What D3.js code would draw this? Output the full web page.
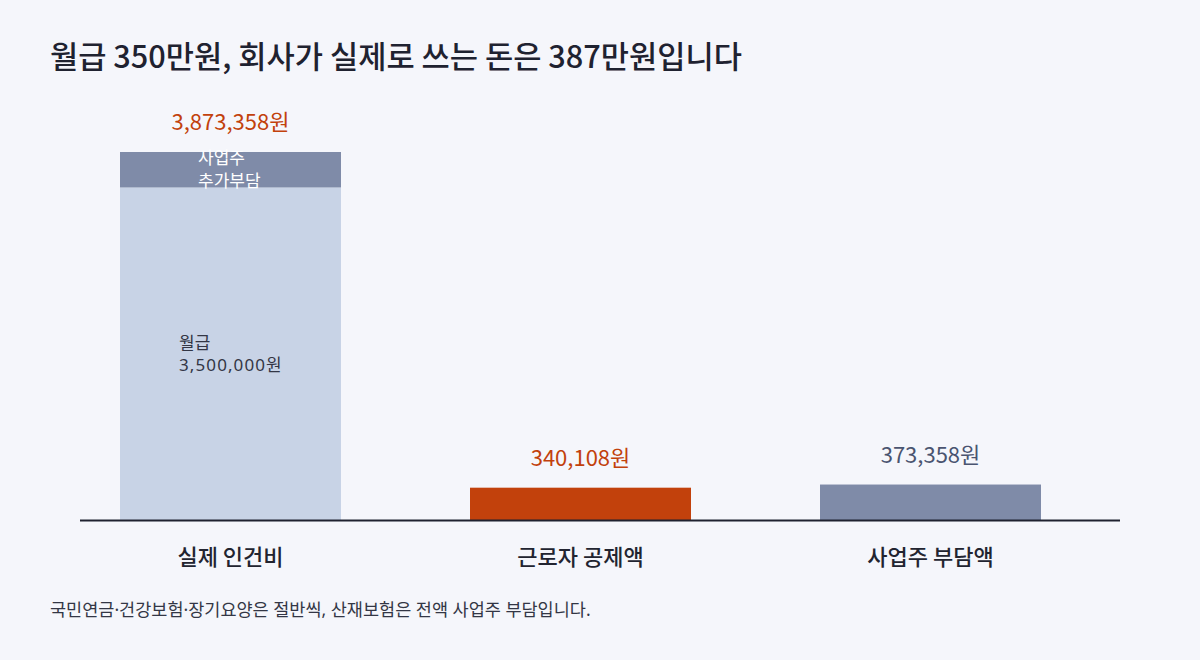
<!DOCTYPE html>
<html>
<head>
<meta charset="utf-8">
<script src="https://cdn.jsdelivr.net/npm/d3@7/dist/d3.min.js"></script>
<style>
  body { margin: 0; background: #f5f6fb; }
  svg { display: block; font-family: "Noto Sans CJK KR", "Noto Sans", sans-serif; }
</style>
</head>
<body>
<svg></svg>
<script>
var width = 1200;
var height = 660;

var categories = ["실제 인건비", "근로자 공제액", "사업주 부담액"];
var salary = [3500000, 0, 0];
var employerExtra = [373358, 0, 373358];
var employeeDeduct = [0, 340108, 0];
var totalLabels = ["3,873,358원", "340,108원", "373,358원"];

var colors = {
  salary: "#c8d3e6",
  employer: "#7f8ba8",
  employee: "#c2410c"
};

var latinFirst = '"Noto Sans", "Noto Sans CJK KR", sans-serif';

var svg = d3.select('svg')
  .attr('width', width)
  .attr('height', height);

svg.append('rect')
  .attr('width', width)
  .attr('height', height)
  .attr('fill', '#f5f6fb');

var xScale = d3.scaleBand()
  .domain(categories)
  .range([55.5, 1105.5])
  .paddingInner(0.3686)
  .paddingOuter(0.1843);

var yScale = d3.scaleLinear()
  .domain([0, 3873358])
  .range([520, 152]);

// stacked segments: salary, then employer / employee parts
var segments = [];
categories.forEach(function(c, i) {
  var base = 0;
  [["salary", salary[i]], ["employee", employeeDeduct[i]], ["employer", employerExtra[i]]].forEach(function(p) {
    if (p[1] > 0) {
      segments.push({ cat: c, key: p[0], y0: base, y1: base + p[1] });
      base += p[1];
    }
  });
});

svg.selectAll('rect.bar')
  .data(segments)
  .enter()
  .append('rect')
    .attr('class', 'bar')
    .attr('x', d => xScale(d.cat))
    .attr('y', d => yScale(d.y1))
    .attr('width', xScale.bandwidth())
    .attr('height', d => yScale(d.y0) - yScale(d.y1))
    .attr('fill', d => colors[d.key]);

// baseline axis
var xAxis = d3.axisBottom(xScale).tickSize(0).tickPadding(29);
var gx = svg.append('g')
  .attr('transform', 'translate(0,' + yScale(0) + ')')
  .call(xAxis);
gx.select('.domain').remove();
gx.append('line')
  .attr('x1', 80).attr('x2', 1120)
  .attr('y1', 0.5).attr('y2', 0.5)
  .attr('stroke', '#1f2230')
  .attr('stroke-width', 2);
gx.selectAll('.tick text')
  .attr('font-size', 22)
  .attr('font-weight', 500)
  .attr('fill', '#222430')
  .attr('font-family', '"Noto Sans CJK KR", sans-serif');

// total labels above bars
var totals = categories.map(function(c, i) { return salary[i] + employerExtra[i] + employeeDeduct[i]; });
svg.selectAll('text.total')
  .data(categories)
  .enter()
  .append('text')
    .attr('class', 'total')
    .attr('x', d => xScale(d) + xScale.bandwidth() / 2)
    .attr('y', (d, i) => yScale(totals[i]) - 22)
    .attr('text-anchor', 'middle')
    .attr('font-size', 22)
    .attr('fill', (d, i) => i < 2 ? '#c2410c' : '#4a5470')
    .text((d, i) => totalLabels[i]);

// inner labels
var first = categories[0];
var salLabel = svg.append('text')
  .attr('x', xScale(first) + 59)
  .attr('y', (yScale(0) + yScale(salary[0])) / 2 - 5)
  .attr('font-size', 17)
  .attr('font-family', latinFirst)
  .attr('fill', '#333645');
salLabel.append('tspan').attr('x', xScale(first) + 59).text('월급');
salLabel.append('tspan').attr('x', xScale(first) + 59).attr('dy', 22)
  .attr('letter-spacing', 1.1)
  .text('3,500,000원');

var empLabel = svg.append('text')
  .attr('x', xScale(first) + 78)
  .attr('y', (yScale(salary[0]) + yScale(totals[0])) / 2 - 6)
  .attr('font-size', 17)
  .attr('font-family', latinFirst)
  .attr('fill', '#ffffff');
empLabel.append('tspan').attr('x', xScale(first) + 78).text('사업주');
empLabel.append('tspan').attr('x', xScale(first) + 78).attr('dy', 23).text('추가부담');

// title
svg.append('text')
  .attr('x', 50)
  .attr('y', 68)
  .attr('font-size', 30.7)
  .attr('font-weight', 500)
  .attr('fill', '#1f2230')
  .text('월급 350만원, 회사가 실제로 쓰는 돈은 387만원입니다');

// footnote
svg.append('text')
  .attr('x', 50)
  .attr('y', 616)
  .attr('font-size', 17.5)
  .attr('font-family', latinFirst)
  .attr('fill', '#333645')
  .text('국민연금·건강보험·장기요양은 절반씩, 산재보험은 전액 사업주 부담입니다.');
</script>
</body>
</html>
